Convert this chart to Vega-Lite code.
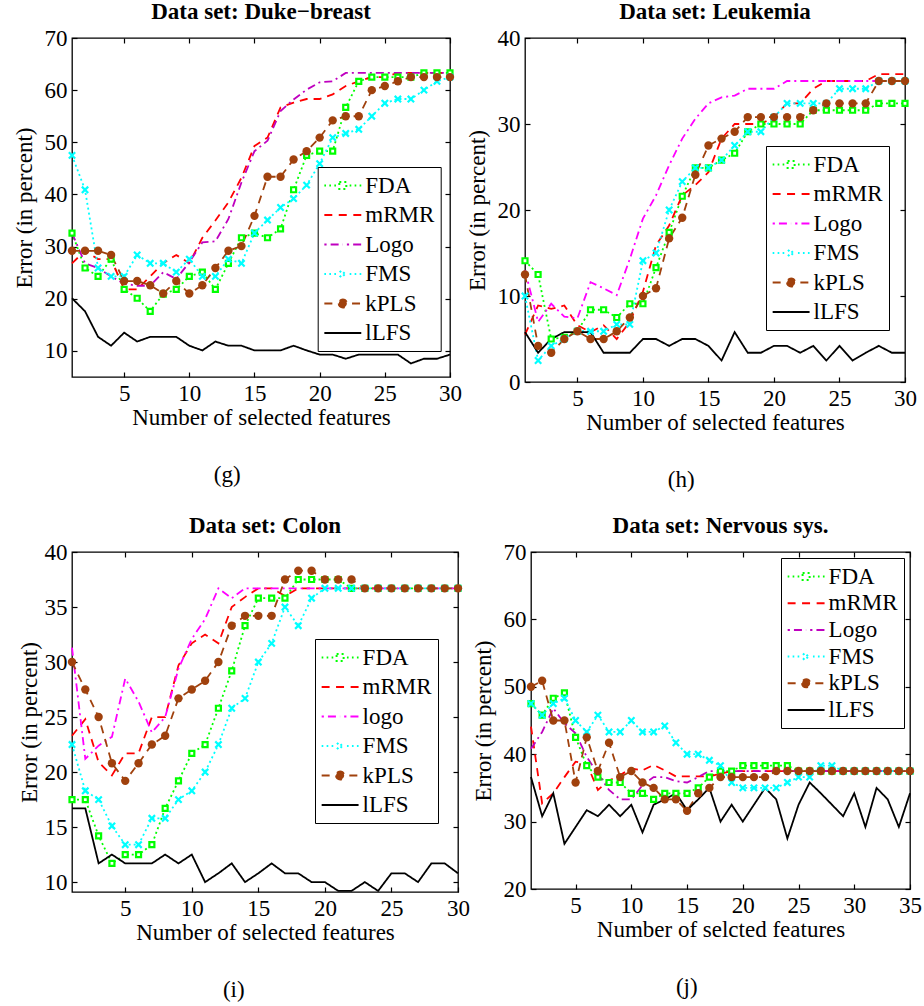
{
"$schema": "https://vega.github.io/schema/vega-lite/v6.json",
"background": "white",
"padding": {"left": 12, "top": 0, "right": 0, "bottom": 0},
"config": {
 "font": "Liberation Serif",
 "style": {"guide-label": {"font": "Liberation Serif"}, "guide-title": {"font": "Liberation Serif"}},
 "view": {"stroke": "black", "strokeWidth": 1.3},
 "axis": {"labelFont": "Liberation Serif", "labelFontSize": 23, "labelColor": "black", "titleFont": "Liberation Serif", "titleFontSize": 23, "titleFontWeight": "normal", "titleColor": "black", "domain": false, "grid": false, "tickColor": "black", "tickSize": -5, "tickWidth": 1.2, "labelPadding": 10, "titlePadding": 1, "labelFlush": false, "labelOverlap": false},
 "title": {"font": "Liberation Serif", "fontSize": 23, "fontWeight": "bold", "color": "black", "frame": "group", "offset": 3},
 "legend": {"title": null, "strokeColor": "black", "fillColor": "white", "padding": 6, "labelFont": "Liberation Serif", "labelFontSize": 23, "labelFontWeight": "normal", "labelColor": "black", "symbolSize": 529, "symbolStrokeWidth": 2, "labelOffset": 16.6, "rowPadding": 4.5, "symbolType": "stroke", "labelLimit": 0}
},
"datasets": {
"g": [
{"m":"FDA","x":1,"y":32.6},{"m":"FDA","x":2,"y":25.9},{"m":"FDA","x":3,"y":24.3},{"m":"FDA","x":4,"y":27.6},{"m":"FDA","x":5,"y":21.8},{"m":"FDA","x":6,"y":20.1},{"m":"FDA","x":7,"y":17.6},{"m":"FDA","x":8,"y":20.9},{"m":"FDA","x":9,"y":21.8},{"m":"FDA","x":10,"y":24.3},{"m":"FDA","x":11,"y":25.1},{"m":"FDA","x":12,"y":21.8},{"m":"FDA","x":13,"y":26.8},{"m":"FDA","x":14,"y":31.7},{"m":"FDA","x":15,"y":32.6},{"m":"FDA","x":16,"y":31.7},{"m":"FDA","x":17,"y":33.4},{"m":"FDA","x":18,"y":40.9},{"m":"FDA","x":19,"y":47.5},{"m":"FDA","x":20,"y":48.3},{"m":"FDA","x":21,"y":48.3},{"m":"FDA","x":22,"y":56.7},{"m":"FDA","x":23,"y":61.7},{"m":"FDA","x":24,"y":62.5},{"m":"FDA","x":25,"y":62.5},{"m":"FDA","x":26,"y":62.5},{"m":"FDA","x":27,"y":62.5},{"m":"FDA","x":28,"y":63.3},{"m":"FDA","x":29,"y":63.3},{"m":"FDA","x":30,"y":63.3},
{"m":"mRMR","x":1,"y":26.8},{"m":"mRMR","x":2,"y":29.2},{"m":"mRMR","x":3,"y":27.6},{"m":"mRMR","x":4,"y":27.6},{"m":"mRMR","x":5,"y":21.8},{"m":"mRMR","x":6,"y":21.8},{"m":"mRMR","x":7,"y":24.3},{"m":"mRMR","x":8,"y":26.8},{"m":"mRMR","x":9,"y":28.4},{"m":"mRMR","x":10,"y":26.8},{"m":"mRMR","x":11,"y":31.7},{"m":"mRMR","x":12,"y":35.0},{"m":"mRMR","x":13,"y":38.5},{"m":"mRMR","x":14,"y":43.2},{"m":"mRMR","x":15,"y":49.3},{"m":"mRMR","x":16,"y":50.9},{"m":"mRMR","x":17,"y":56.7},{"m":"mRMR","x":18,"y":57.6},{"m":"mRMR","x":19,"y":58.3},{"m":"mRMR","x":20,"y":58.3},{"m":"mRMR","x":21,"y":59.2},{"m":"mRMR","x":22,"y":60.8},{"m":"mRMR","x":23,"y":61.7},{"m":"mRMR","x":24,"y":62.5},{"m":"mRMR","x":25,"y":62.5},{"m":"mRMR","x":26,"y":63.3},{"m":"mRMR","x":27,"y":63.3},{"m":"mRMR","x":28,"y":63.3},{"m":"mRMR","x":29,"y":63.3},{"m":"mRMR","x":30,"y":63.3},
{"m":"Logo","x":1,"y":32.6},{"m":"Logo","x":2,"y":26.8},{"m":"Logo","x":3,"y":25.9},{"m":"Logo","x":4,"y":24.3},{"m":"Logo","x":5,"y":22.9},{"m":"Logo","x":6,"y":22.5},{"m":"Logo","x":7,"y":22.5},{"m":"Logo","x":8,"y":25.1},{"m":"Logo","x":9,"y":23.8},{"m":"Logo","x":10,"y":27.0},{"m":"Logo","x":11,"y":30.8},{"m":"Logo","x":12,"y":31.0},{"m":"Logo","x":13,"y":35.3},{"m":"Logo","x":14,"y":42.3},{"m":"Logo","x":15,"y":48.3},{"m":"Logo","x":16,"y":50.3},{"m":"Logo","x":17,"y":56.0},{"m":"Logo","x":18,"y":58.2},{"m":"Logo","x":19,"y":60.1},{"m":"Logo","x":20,"y":61.5},{"m":"Logo","x":21,"y":61.7},{"m":"Logo","x":22,"y":63.3},{"m":"Logo","x":23,"y":63.3},{"m":"Logo","x":24,"y":63.3},{"m":"Logo","x":25,"y":63.3},{"m":"Logo","x":26,"y":63.3},{"m":"Logo","x":27,"y":63.3},{"m":"Logo","x":28,"y":63.3},{"m":"Logo","x":29,"y":63.3},{"m":"Logo","x":30,"y":63.3},
{"m":"FMS","x":1,"y":47.5},{"m":"FMS","x":2,"y":40.9},{"m":"FMS","x":3,"y":25.9},{"m":"FMS","x":4,"y":24.3},{"m":"FMS","x":5,"y":24.3},{"m":"FMS","x":6,"y":28.4},{"m":"FMS","x":7,"y":26.8},{"m":"FMS","x":8,"y":26.8},{"m":"FMS","x":9,"y":25.1},{"m":"FMS","x":10,"y":27.6},{"m":"FMS","x":11,"y":24.3},{"m":"FMS","x":12,"y":24.3},{"m":"FMS","x":13,"y":27.6},{"m":"FMS","x":14,"y":26.8},{"m":"FMS","x":15,"y":32.6},{"m":"FMS","x":16,"y":35.1},{"m":"FMS","x":17,"y":37.5},{"m":"FMS","x":18,"y":39.2},{"m":"FMS","x":19,"y":41.8},{"m":"FMS","x":20,"y":45.9},{"m":"FMS","x":21,"y":50.9},{"m":"FMS","x":22,"y":51.7},{"m":"FMS","x":23,"y":52.5},{"m":"FMS","x":24,"y":55.0},{"m":"FMS","x":25,"y":57.5},{"m":"FMS","x":26,"y":58.3},{"m":"FMS","x":27,"y":58.3},{"m":"FMS","x":28,"y":60.0},{"m":"FMS","x":29,"y":61.7},{"m":"FMS","x":30,"y":62.5},
{"m":"kPLS","x":1,"y":29.2},{"m":"kPLS","x":2,"y":29.2},{"m":"kPLS","x":3,"y":29.2},{"m":"kPLS","x":4,"y":28.4},{"m":"kPLS","x":5,"y":23.4},{"m":"kPLS","x":6,"y":23.4},{"m":"kPLS","x":7,"y":22.6},{"m":"kPLS","x":8,"y":21.0},{"m":"kPLS","x":9,"y":23.4},{"m":"kPLS","x":10,"y":21.0},{"m":"kPLS","x":11,"y":22.6},{"m":"kPLS","x":12,"y":25.9},{"m":"kPLS","x":13,"y":29.2},{"m":"kPLS","x":14,"y":30.1},{"m":"kPLS","x":15,"y":35.9},{"m":"kPLS","x":16,"y":43.4},{"m":"kPLS","x":17,"y":43.4},{"m":"kPLS","x":18,"y":46.7},{"m":"kPLS","x":19,"y":48.3},{"m":"kPLS","x":20,"y":50.9},{"m":"kPLS","x":21,"y":54.2},{"m":"kPLS","x":22,"y":55.0},{"m":"kPLS","x":23,"y":55.0},{"m":"kPLS","x":24,"y":60.0},{"m":"kPLS","x":25,"y":60.8},{"m":"kPLS","x":26,"y":61.7},{"m":"kPLS","x":27,"y":62.5},{"m":"kPLS","x":28,"y":62.5},{"m":"kPLS","x":29,"y":62.5},{"m":"kPLS","x":30,"y":62.5},
{"m":"lLFS","x":1,"y":20.1},{"m":"lLFS","x":2,"y":17.6},{"m":"lLFS","x":3,"y":12.7},{"m":"lLFS","x":4,"y":11.0},{"m":"lLFS","x":5,"y":13.5},{"m":"lLFS","x":6,"y":11.8},{"m":"lLFS","x":7,"y":12.7},{"m":"lLFS","x":8,"y":12.7},{"m":"lLFS","x":9,"y":12.7},{"m":"lLFS","x":10,"y":11.0},{"m":"lLFS","x":11,"y":10.1},{"m":"lLFS","x":12,"y":11.8},{"m":"lLFS","x":13,"y":11.0},{"m":"lLFS","x":14,"y":11.0},{"m":"lLFS","x":15,"y":10.1},{"m":"lLFS","x":16,"y":10.1},{"m":"lLFS","x":17,"y":10.1},{"m":"lLFS","x":18,"y":11.0},{"m":"lLFS","x":19,"y":10.1},{"m":"lLFS","x":20,"y":9.3},{"m":"lLFS","x":21,"y":9.3},{"m":"lLFS","x":22,"y":8.5},{"m":"lLFS","x":23,"y":9.3},{"m":"lLFS","x":24,"y":9.3},{"m":"lLFS","x":25,"y":9.3},{"m":"lLFS","x":26,"y":9.3},{"m":"lLFS","x":27,"y":7.6},{"m":"lLFS","x":28,"y":8.5},{"m":"lLFS","x":29,"y":8.5},{"m":"lLFS","x":30,"y":9.3}
],
"h": [
{"m":"FDA","x":1,"y":14.1},{"m":"FDA","x":2,"y":12.5},{"m":"FDA","x":3,"y":5.0},{"m":"FDA","x":4,"y":5.2},{"m":"FDA","x":5,"y":5.9},{"m":"FDA","x":6,"y":8.4},{"m":"FDA","x":7,"y":8.4},{"m":"FDA","x":8,"y":7.5},{"m":"FDA","x":9,"y":9.1},{"m":"FDA","x":10,"y":9.1},{"m":"FDA","x":11,"y":13.3},{"m":"FDA","x":12,"y":17.4},{"m":"FDA","x":13,"y":21.6},{"m":"FDA","x":14,"y":24.9},{"m":"FDA","x":15,"y":24.9},{"m":"FDA","x":16,"y":25.8},{"m":"FDA","x":17,"y":26.6},{"m":"FDA","x":18,"y":29.1},{"m":"FDA","x":19,"y":30.0},{"m":"FDA","x":20,"y":30.0},{"m":"FDA","x":21,"y":30.0},{"m":"FDA","x":22,"y":30.0},{"m":"FDA","x":23,"y":31.6},{"m":"FDA","x":24,"y":31.6},{"m":"FDA","x":25,"y":31.6},{"m":"FDA","x":26,"y":31.6},{"m":"FDA","x":27,"y":31.6},{"m":"FDA","x":28,"y":32.4},{"m":"FDA","x":29,"y":32.4},{"m":"FDA","x":30,"y":32.4},
{"m":"mRMR","x":1,"y":5.5},{"m":"mRMR","x":2,"y":8.9},{"m":"mRMR","x":3,"y":8.5},{"m":"mRMR","x":4,"y":8.9},{"m":"mRMR","x":5,"y":6.6},{"m":"mRMR","x":6,"y":5.8},{"m":"mRMR","x":7,"y":6.6},{"m":"mRMR","x":8,"y":5.0},{"m":"mRMR","x":9,"y":7.0},{"m":"mRMR","x":10,"y":10.5},{"m":"mRMR","x":11,"y":15.9},{"m":"mRMR","x":12,"y":18.2},{"m":"mRMR","x":13,"y":21.7},{"m":"mRMR","x":14,"y":22.9},{"m":"mRMR","x":15,"y":24.4},{"m":"mRMR","x":16,"y":28.3},{"m":"mRMR","x":17,"y":30.0},{"m":"mRMR","x":18,"y":30.0},{"m":"mRMR","x":19,"y":30.0},{"m":"mRMR","x":20,"y":30.8},{"m":"mRMR","x":21,"y":32.4},{"m":"mRMR","x":22,"y":32.4},{"m":"mRMR","x":23,"y":34.1},{"m":"mRMR","x":24,"y":35.0},{"m":"mRMR","x":25,"y":35.0},{"m":"mRMR","x":26,"y":35.0},{"m":"mRMR","x":27,"y":35.0},{"m":"mRMR","x":28,"y":35.8},{"m":"mRMR","x":29,"y":35.8},{"m":"mRMR","x":30,"y":35.8},
{"m":"Logo","x":1,"y":13.0},{"m":"Logo","x":2,"y":7.0},{"m":"Logo","x":3,"y":9.1},{"m":"Logo","x":4,"y":7.6},{"m":"Logo","x":5,"y":7.4},{"m":"Logo","x":6,"y":11.6},{"m":"Logo","x":7,"y":10.9},{"m":"Logo","x":8,"y":10.1},{"m":"Logo","x":9,"y":14.3},{"m":"Logo","x":10,"y":19.0},{"m":"Logo","x":11,"y":21.7},{"m":"Logo","x":12,"y":25.2},{"m":"Logo","x":13,"y":28.3},{"m":"Logo","x":14,"y":30.6},{"m":"Logo","x":15,"y":32.4},{"m":"Logo","x":16,"y":33.1},{"m":"Logo","x":17,"y":33.3},{"m":"Logo","x":18,"y":34.1},{"m":"Logo","x":19,"y":34.1},{"m":"Logo","x":20,"y":34.1},{"m":"Logo","x":21,"y":35.0},{"m":"Logo","x":22,"y":35.0},{"m":"Logo","x":23,"y":35.0},{"m":"Logo","x":24,"y":35.0},{"m":"Logo","x":25,"y":35.0},{"m":"Logo","x":26,"y":35.0},{"m":"Logo","x":27,"y":35.0},{"m":"Logo","x":28,"y":35.0},{"m":"Logo","x":29,"y":35.0},{"m":"Logo","x":30,"y":35.0},
{"m":"FMS","x":1,"y":10.0},{"m":"FMS","x":2,"y":2.5},{"m":"FMS","x":3,"y":4.2},{"m":"FMS","x":4,"y":5.0},{"m":"FMS","x":5,"y":5.9},{"m":"FMS","x":6,"y":5.9},{"m":"FMS","x":7,"y":5.9},{"m":"FMS","x":8,"y":6.7},{"m":"FMS","x":9,"y":6.7},{"m":"FMS","x":10,"y":14.1},{"m":"FMS","x":11,"y":15.0},{"m":"FMS","x":12,"y":20.0},{"m":"FMS","x":13,"y":23.3},{"m":"FMS","x":14,"y":24.9},{"m":"FMS","x":15,"y":24.9},{"m":"FMS","x":16,"y":25.8},{"m":"FMS","x":17,"y":27.5},{"m":"FMS","x":18,"y":29.1},{"m":"FMS","x":19,"y":29.1},{"m":"FMS","x":20,"y":30.8},{"m":"FMS","x":21,"y":32.4},{"m":"FMS","x":22,"y":32.4},{"m":"FMS","x":23,"y":32.4},{"m":"FMS","x":24,"y":32.4},{"m":"FMS","x":25,"y":34.1},{"m":"FMS","x":26,"y":34.1},{"m":"FMS","x":27,"y":34.1},{"m":"FMS","x":28,"y":35.0},{"m":"FMS","x":29,"y":35.0},{"m":"FMS","x":30,"y":35.0},
{"m":"kPLS","x":1,"y":12.5},{"m":"kPLS","x":2,"y":4.2},{"m":"kPLS","x":3,"y":3.4},{"m":"kPLS","x":4,"y":5.0},{"m":"kPLS","x":5,"y":5.9},{"m":"kPLS","x":6,"y":5.0},{"m":"kPLS","x":7,"y":5.0},{"m":"kPLS","x":8,"y":5.9},{"m":"kPLS","x":9,"y":7.5},{"m":"kPLS","x":10,"y":10.0},{"m":"kPLS","x":11,"y":10.9},{"m":"kPLS","x":12,"y":16.7},{"m":"kPLS","x":13,"y":19.1},{"m":"kPLS","x":14,"y":24.1},{"m":"kPLS","x":15,"y":27.5},{"m":"kPLS","x":16,"y":28.3},{"m":"kPLS","x":17,"y":29.1},{"m":"kPLS","x":18,"y":30.8},{"m":"kPLS","x":19,"y":30.8},{"m":"kPLS","x":20,"y":30.8},{"m":"kPLS","x":21,"y":30.8},{"m":"kPLS","x":22,"y":30.8},{"m":"kPLS","x":23,"y":31.6},{"m":"kPLS","x":24,"y":32.4},{"m":"kPLS","x":25,"y":32.4},{"m":"kPLS","x":26,"y":32.4},{"m":"kPLS","x":27,"y":32.4},{"m":"kPLS","x":28,"y":35.0},{"m":"kPLS","x":29,"y":35.0},{"m":"kPLS","x":30,"y":35.0},
{"m":"lLFS","x":1,"y":5.8},{"m":"lLFS","x":2,"y":3.4},{"m":"lLFS","x":3,"y":5.0},{"m":"lLFS","x":4,"y":5.8},{"m":"lLFS","x":5,"y":5.8},{"m":"lLFS","x":6,"y":5.8},{"m":"lLFS","x":7,"y":3.4},{"m":"lLFS","x":8,"y":3.4},{"m":"lLFS","x":9,"y":3.4},{"m":"lLFS","x":10,"y":5.0},{"m":"lLFS","x":11,"y":5.0},{"m":"lLFS","x":12,"y":4.2},{"m":"lLFS","x":13,"y":5.0},{"m":"lLFS","x":14,"y":5.0},{"m":"lLFS","x":15,"y":4.2},{"m":"lLFS","x":16,"y":2.5},{"m":"lLFS","x":17,"y":5.8},{"m":"lLFS","x":18,"y":3.4},{"m":"lLFS","x":19,"y":3.4},{"m":"lLFS","x":20,"y":4.2},{"m":"lLFS","x":21,"y":4.2},{"m":"lLFS","x":22,"y":3.4},{"m":"lLFS","x":23,"y":4.2},{"m":"lLFS","x":24,"y":2.5},{"m":"lLFS","x":25,"y":4.2},{"m":"lLFS","x":26,"y":2.5},{"m":"lLFS","x":27,"y":3.4},{"m":"lLFS","x":28,"y":4.2},{"m":"lLFS","x":29,"y":3.4},{"m":"lLFS","x":30,"y":3.4}
],
"i": [
{"m":"FDA","x":1,"y":17.5},{"m":"FDA","x":2,"y":17.5},{"m":"FDA","x":3,"y":14.2},{"m":"FDA","x":4,"y":11.7},{"m":"FDA","x":5,"y":12.5},{"m":"FDA","x":6,"y":12.5},{"m":"FDA","x":7,"y":13.4},{"m":"FDA","x":8,"y":16.7},{"m":"FDA","x":9,"y":19.2},{"m":"FDA","x":10,"y":21.7},{"m":"FDA","x":11,"y":22.5},{"m":"FDA","x":12,"y":25.8},{"m":"FDA","x":13,"y":29.2},{"m":"FDA","x":14,"y":33.3},{"m":"FDA","x":15,"y":35.8},{"m":"FDA","x":16,"y":35.8},{"m":"FDA","x":17,"y":35.8},{"m":"FDA","x":18,"y":37.5},{"m":"FDA","x":19,"y":37.5},{"m":"FDA","x":20,"y":37.5},{"m":"FDA","x":21,"y":37.5},{"m":"FDA","x":22,"y":36.7},{"m":"FDA","x":23,"y":36.7},{"m":"FDA","x":24,"y":36.7},{"m":"FDA","x":25,"y":36.7},{"m":"FDA","x":26,"y":36.7},{"m":"FDA","x":27,"y":36.7},{"m":"FDA","x":28,"y":36.7},{"m":"FDA","x":29,"y":36.7},{"m":"FDA","x":30,"y":36.7},
{"m":"mRMR","x":1,"y":23.3},{"m":"mRMR","x":2,"y":24.8},{"m":"mRMR","x":3,"y":20.9},{"m":"mRMR","x":4,"y":19.7},{"m":"mRMR","x":5,"y":21.7},{"m":"mRMR","x":6,"y":21.7},{"m":"mRMR","x":7,"y":25.0},{"m":"mRMR","x":8,"y":25.0},{"m":"mRMR","x":9,"y":29.7},{"m":"mRMR","x":10,"y":31.7},{"m":"mRMR","x":11,"y":32.5},{"m":"mRMR","x":12,"y":31.7},{"m":"mRMR","x":13,"y":35.0},{"m":"mRMR","x":14,"y":35.9},{"m":"mRMR","x":15,"y":36.7},{"m":"mRMR","x":16,"y":36.7},{"m":"mRMR","x":17,"y":36.0},{"m":"mRMR","x":18,"y":36.7},{"m":"mRMR","x":19,"y":36.7},{"m":"mRMR","x":20,"y":36.7},{"m":"mRMR","x":21,"y":36.7},{"m":"mRMR","x":22,"y":36.7},{"m":"mRMR","x":23,"y":36.7},{"m":"mRMR","x":24,"y":36.7},{"m":"mRMR","x":25,"y":36.7},{"m":"mRMR","x":26,"y":36.7},{"m":"mRMR","x":27,"y":36.7},{"m":"mRMR","x":28,"y":36.7},{"m":"mRMR","x":29,"y":36.7},{"m":"mRMR","x":30,"y":36.7},
{"m":"logo","x":1,"y":31.3},{"m":"logo","x":2,"y":21.2},{"m":"logo","x":3,"y":22.4},{"m":"logo","x":4,"y":23.2},{"m":"logo","x":5,"y":28.5},{"m":"logo","x":6,"y":26.4},{"m":"logo","x":7,"y":23.6},{"m":"logo","x":8,"y":25.0},{"m":"logo","x":9,"y":29.4},{"m":"logo","x":10,"y":32.1},{"m":"logo","x":11,"y":33.9},{"m":"logo","x":12,"y":36.7},{"m":"logo","x":13,"y":35.8},{"m":"logo","x":14,"y":36.7},{"m":"logo","x":15,"y":36.7},{"m":"logo","x":16,"y":36.7},{"m":"logo","x":17,"y":36.7},{"m":"logo","x":18,"y":36.7},{"m":"logo","x":19,"y":36.7},{"m":"logo","x":20,"y":36.7},{"m":"logo","x":21,"y":36.7},{"m":"logo","x":22,"y":36.7},{"m":"logo","x":23,"y":36.7},{"m":"logo","x":24,"y":36.7},{"m":"logo","x":25,"y":36.7},{"m":"logo","x":26,"y":36.7},{"m":"logo","x":27,"y":36.7},{"m":"logo","x":28,"y":36.7},{"m":"logo","x":29,"y":36.7},{"m":"logo","x":30,"y":36.7},
{"m":"FMS","x":1,"y":22.5},{"m":"FMS","x":2,"y":18.3},{"m":"FMS","x":3,"y":17.5},{"m":"FMS","x":4,"y":15.1},{"m":"FMS","x":5,"y":13.4},{"m":"FMS","x":6,"y":13.4},{"m":"FMS","x":7,"y":15.8},{"m":"FMS","x":8,"y":15.8},{"m":"FMS","x":9,"y":17.5},{"m":"FMS","x":10,"y":18.3},{"m":"FMS","x":11,"y":20.0},{"m":"FMS","x":12,"y":22.5},{"m":"FMS","x":13,"y":25.8},{"m":"FMS","x":14,"y":26.7},{"m":"FMS","x":15,"y":30.0},{"m":"FMS","x":16,"y":31.7},{"m":"FMS","x":17,"y":35.0},{"m":"FMS","x":18,"y":33.3},{"m":"FMS","x":19,"y":35.8},{"m":"FMS","x":20,"y":36.7},{"m":"FMS","x":21,"y":36.7},{"m":"FMS","x":22,"y":36.7},{"m":"FMS","x":23,"y":36.7},{"m":"FMS","x":24,"y":36.7},{"m":"FMS","x":25,"y":36.7},{"m":"FMS","x":26,"y":36.7},{"m":"FMS","x":27,"y":36.7},{"m":"FMS","x":28,"y":36.7},{"m":"FMS","x":29,"y":36.7},{"m":"FMS","x":30,"y":36.7},
{"m":"kPLS","x":1,"y":30.0},{"m":"kPLS","x":2,"y":27.5},{"m":"kPLS","x":3,"y":25.0},{"m":"kPLS","x":4,"y":20.8},{"m":"kPLS","x":5,"y":19.2},{"m":"kPLS","x":6,"y":20.8},{"m":"kPLS","x":7,"y":22.5},{"m":"kPLS","x":8,"y":23.3},{"m":"kPLS","x":9,"y":26.7},{"m":"kPLS","x":10,"y":27.5},{"m":"kPLS","x":11,"y":28.3},{"m":"kPLS","x":12,"y":30.0},{"m":"kPLS","x":13,"y":33.3},{"m":"kPLS","x":14,"y":34.2},{"m":"kPLS","x":15,"y":34.2},{"m":"kPLS","x":16,"y":34.2},{"m":"kPLS","x":17,"y":37.5},{"m":"kPLS","x":18,"y":38.3},{"m":"kPLS","x":19,"y":38.3},{"m":"kPLS","x":20,"y":37.5},{"m":"kPLS","x":21,"y":37.5},{"m":"kPLS","x":22,"y":37.5},{"m":"kPLS","x":23,"y":36.7},{"m":"kPLS","x":24,"y":36.7},{"m":"kPLS","x":25,"y":36.7},{"m":"kPLS","x":26,"y":36.7},{"m":"kPLS","x":27,"y":36.7},{"m":"kPLS","x":28,"y":36.7},{"m":"kPLS","x":29,"y":36.7},{"m":"kPLS","x":30,"y":36.7},
{"m":"lLFS","x":1,"y":16.7},{"m":"lLFS","x":2,"y":16.7},{"m":"lLFS","x":3,"y":11.7},{"m":"lLFS","x":4,"y":12.5},{"m":"lLFS","x":5,"y":11.7},{"m":"lLFS","x":6,"y":11.7},{"m":"lLFS","x":7,"y":11.7},{"m":"lLFS","x":8,"y":12.5},{"m":"lLFS","x":9,"y":11.7},{"m":"lLFS","x":10,"y":12.5},{"m":"lLFS","x":11,"y":10.0},{"m":"lLFS","x":12,"y":10.8},{"m":"lLFS","x":13,"y":11.7},{"m":"lLFS","x":14,"y":10.0},{"m":"lLFS","x":15,"y":10.8},{"m":"lLFS","x":16,"y":11.7},{"m":"lLFS","x":17,"y":10.8},{"m":"lLFS","x":18,"y":10.8},{"m":"lLFS","x":19,"y":10.0},{"m":"lLFS","x":20,"y":10.0},{"m":"lLFS","x":21,"y":9.2},{"m":"lLFS","x":22,"y":9.2},{"m":"lLFS","x":23,"y":10.0},{"m":"lLFS","x":24,"y":9.2},{"m":"lLFS","x":25,"y":10.8},{"m":"lLFS","x":26,"y":10.8},{"m":"lLFS","x":27,"y":10.0},{"m":"lLFS","x":28,"y":11.7},{"m":"lLFS","x":29,"y":11.7},{"m":"lLFS","x":30,"y":10.8}
],
"j": [
{"m":"FDA","x":1,"y":47.5},{"m":"FDA","x":2,"y":45.8},{"m":"FDA","x":3,"y":48.3},{"m":"FDA","x":4,"y":49.1},{"m":"FDA","x":5,"y":42.5},{"m":"FDA","x":6,"y":38.3},{"m":"FDA","x":7,"y":36.6},{"m":"FDA","x":8,"y":35.8},{"m":"FDA","x":9,"y":35.8},{"m":"FDA","x":10,"y":34.2},{"m":"FDA","x":11,"y":34.2},{"m":"FDA","x":12,"y":33.3},{"m":"FDA","x":13,"y":34.2},{"m":"FDA","x":14,"y":34.2},{"m":"FDA","x":15,"y":34.2},{"m":"FDA","x":16,"y":35.0},{"m":"FDA","x":17,"y":36.6},{"m":"FDA","x":18,"y":37.5},{"m":"FDA","x":19,"y":37.5},{"m":"FDA","x":20,"y":38.3},{"m":"FDA","x":21,"y":38.3},{"m":"FDA","x":22,"y":38.3},{"m":"FDA","x":23,"y":38.3},{"m":"FDA","x":24,"y":38.3},{"m":"FDA","x":25,"y":37.5},{"m":"FDA","x":26,"y":37.5},{"m":"FDA","x":27,"y":37.5},{"m":"FDA","x":28,"y":37.5},{"m":"FDA","x":29,"y":37.5},{"m":"FDA","x":30,"y":37.5},{"m":"FDA","x":31,"y":37.5},{"m":"FDA","x":32,"y":37.5},{"m":"FDA","x":33,"y":37.5},{"m":"FDA","x":34,"y":37.5},{"m":"FDA","x":35,"y":37.5},
{"m":"mRMR","x":1,"y":44.1},{"m":"mRMR","x":2,"y":32.7},{"m":"mRMR","x":3,"y":34.2},{"m":"mRMR","x":4,"y":36.6},{"m":"mRMR","x":5,"y":38.9},{"m":"mRMR","x":6,"y":38.6},{"m":"mRMR","x":7,"y":34.7},{"m":"mRMR","x":8,"y":36.1},{"m":"mRMR","x":9,"y":36.9},{"m":"mRMR","x":10,"y":37.9},{"m":"mRMR","x":11,"y":37.6},{"m":"mRMR","x":12,"y":38.4},{"m":"mRMR","x":13,"y":37.6},{"m":"mRMR","x":14,"y":36.7},{"m":"mRMR","x":15,"y":36.7},{"m":"mRMR","x":16,"y":36.7},{"m":"mRMR","x":17,"y":36.7},{"m":"mRMR","x":18,"y":37.1},{"m":"mRMR","x":19,"y":37.5},{"m":"mRMR","x":20,"y":37.5},{"m":"mRMR","x":21,"y":37.5},{"m":"mRMR","x":22,"y":37.5},{"m":"mRMR","x":23,"y":37.5},{"m":"mRMR","x":24,"y":37.5},{"m":"mRMR","x":25,"y":37.5},{"m":"mRMR","x":26,"y":37.5},{"m":"mRMR","x":27,"y":37.5},{"m":"mRMR","x":28,"y":37.5},{"m":"mRMR","x":29,"y":37.5},{"m":"mRMR","x":30,"y":37.5},{"m":"mRMR","x":31,"y":37.5},{"m":"mRMR","x":32,"y":37.5},{"m":"mRMR","x":33,"y":37.5},{"m":"mRMR","x":34,"y":37.5},{"m":"mRMR","x":35,"y":37.5},
{"m":"Logo","x":1,"y":40.8},{"m":"Logo","x":2,"y":43.3},{"m":"Logo","x":3,"y":46.8},{"m":"Logo","x":4,"y":44.6},{"m":"Logo","x":5,"y":43.1},{"m":"Logo","x":6,"y":39.6},{"m":"Logo","x":7,"y":37.1},{"m":"Logo","x":8,"y":34.7},{"m":"Logo","x":9,"y":33.3},{"m":"Logo","x":10,"y":33.3},{"m":"Logo","x":11,"y":35.4},{"m":"Logo","x":12,"y":36.6},{"m":"Logo","x":13,"y":36.6},{"m":"Logo","x":14,"y":36.0},{"m":"Logo","x":15,"y":35.8},{"m":"Logo","x":16,"y":36.6},{"m":"Logo","x":17,"y":37.5},{"m":"Logo","x":18,"y":37.5},{"m":"Logo","x":19,"y":37.5},{"m":"Logo","x":20,"y":37.5},{"m":"Logo","x":21,"y":37.5},{"m":"Logo","x":22,"y":37.5},{"m":"Logo","x":23,"y":37.5},{"m":"Logo","x":24,"y":37.5},{"m":"Logo","x":25,"y":37.5},{"m":"Logo","x":26,"y":37.5},{"m":"Logo","x":27,"y":37.5},{"m":"Logo","x":28,"y":37.5},{"m":"Logo","x":29,"y":37.5},{"m":"Logo","x":30,"y":37.5},{"m":"Logo","x":31,"y":37.5},{"m":"Logo","x":32,"y":37.5},{"m":"Logo","x":33,"y":37.5},{"m":"Logo","x":34,"y":37.5},{"m":"Logo","x":35,"y":37.5},
{"m":"FMS","x":1,"y":47.5},{"m":"FMS","x":2,"y":45.8},{"m":"FMS","x":3,"y":47.5},{"m":"FMS","x":4,"y":48.3},{"m":"FMS","x":5,"y":45.0},{"m":"FMS","x":6,"y":43.3},{"m":"FMS","x":7,"y":45.8},{"m":"FMS","x":8,"y":43.3},{"m":"FMS","x":9,"y":43.3},{"m":"FMS","x":10,"y":45.0},{"m":"FMS","x":11,"y":43.3},{"m":"FMS","x":12,"y":43.3},{"m":"FMS","x":13,"y":44.2},{"m":"FMS","x":14,"y":41.7},{"m":"FMS","x":15,"y":40.0},{"m":"FMS","x":16,"y":40.0},{"m":"FMS","x":17,"y":39.1},{"m":"FMS","x":18,"y":38.3},{"m":"FMS","x":19,"y":35.8},{"m":"FMS","x":20,"y":35.0},{"m":"FMS","x":21,"y":35.0},{"m":"FMS","x":22,"y":35.0},{"m":"FMS","x":23,"y":35.0},{"m":"FMS","x":24,"y":35.8},{"m":"FMS","x":25,"y":36.6},{"m":"FMS","x":26,"y":36.6},{"m":"FMS","x":27,"y":38.3},{"m":"FMS","x":28,"y":38.3},{"m":"FMS","x":29,"y":37.5},{"m":"FMS","x":30,"y":37.5},{"m":"FMS","x":31,"y":37.5},{"m":"FMS","x":32,"y":37.5},{"m":"FMS","x":33,"y":37.5},{"m":"FMS","x":34,"y":37.5},{"m":"FMS","x":35,"y":37.5},
{"m":"kPLS","x":1,"y":50.0},{"m":"kPLS","x":2,"y":50.9},{"m":"kPLS","x":3,"y":45.0},{"m":"kPLS","x":4,"y":45.0},{"m":"kPLS","x":5,"y":35.8},{"m":"kPLS","x":6,"y":42.5},{"m":"kPLS","x":7,"y":37.5},{"m":"kPLS","x":8,"y":41.7},{"m":"kPLS","x":9,"y":36.6},{"m":"kPLS","x":10,"y":37.5},{"m":"kPLS","x":11,"y":35.8},{"m":"kPLS","x":12,"y":35.0},{"m":"kPLS","x":13,"y":33.3},{"m":"kPLS","x":14,"y":33.3},{"m":"kPLS","x":15,"y":31.6},{"m":"kPLS","x":16,"y":34.2},{"m":"kPLS","x":17,"y":35.0},{"m":"kPLS","x":18,"y":36.6},{"m":"kPLS","x":19,"y":36.6},{"m":"kPLS","x":20,"y":36.6},{"m":"kPLS","x":21,"y":36.6},{"m":"kPLS","x":22,"y":36.6},{"m":"kPLS","x":23,"y":37.5},{"m":"kPLS","x":24,"y":37.5},{"m":"kPLS","x":25,"y":37.5},{"m":"kPLS","x":26,"y":37.5},{"m":"kPLS","x":27,"y":37.5},{"m":"kPLS","x":28,"y":37.5},{"m":"kPLS","x":29,"y":37.5},{"m":"kPLS","x":30,"y":37.5},{"m":"kPLS","x":31,"y":37.5},{"m":"kPLS","x":32,"y":37.5},{"m":"kPLS","x":33,"y":37.5},{"m":"kPLS","x":34,"y":37.5},{"m":"kPLS","x":35,"y":37.5},
{"m":"lLFS","x":1,"y":36.6},{"m":"lLFS","x":2,"y":30.8},{"m":"lLFS","x":3,"y":34.2},{"m":"lLFS","x":4,"y":26.7},{"m":"lLFS","x":5,"y":29.2},{"m":"lLFS","x":6,"y":31.7},{"m":"lLFS","x":7,"y":30.8},{"m":"lLFS","x":8,"y":32.5},{"m":"lLFS","x":9,"y":30.8},{"m":"lLFS","x":10,"y":32.5},{"m":"lLFS","x":11,"y":28.4},{"m":"lLFS","x":12,"y":32.5},{"m":"lLFS","x":13,"y":33.3},{"m":"lLFS","x":14,"y":34.2},{"m":"lLFS","x":15,"y":31.7},{"m":"lLFS","x":16,"y":33.3},{"m":"lLFS","x":17,"y":35.0},{"m":"lLFS","x":18,"y":30.0},{"m":"lLFS","x":19,"y":32.5},{"m":"lLFS","x":20,"y":30.0},{"m":"lLFS","x":21,"y":32.5},{"m":"lLFS","x":22,"y":35.0},{"m":"lLFS","x":23,"y":33.3},{"m":"lLFS","x":24,"y":27.5},{"m":"lLFS","x":25,"y":32.5},{"m":"lLFS","x":26,"y":35.8},{"m":"lLFS","x":27,"y":34.2},{"m":"lLFS","x":28,"y":32.5},{"m":"lLFS","x":29,"y":30.8},{"m":"lLFS","x":30,"y":34.2},{"m":"lLFS","x":31,"y":29.2},{"m":"lLFS","x":32,"y":35.0},{"m":"lLFS","x":33,"y":33.3},{"m":"lLFS","x":34,"y":29.2},{"m":"lLFS","x":35,"y":34.2}
]
},
"vconcat": [
 {"hconcat": [
  {"title": {"text": "(g)", "orient": "bottom", "anchor": "middle", "dx": -10, "fontWeight": "normal", "fontSize": 23, "frame": "bounds", "offset": 34},
   "vconcat": [
    {"title": {"text": "Data set: Duke−breast"},
     "width": 378, "height": 339,
     "data": {"name": "g"},
     "layer": [
      {"mark": {"type": "line", "strokeWidth": 1.8},
       "encoding": {
        "x": {"field": "x", "type": "quantitative", "scale": {"domain": [1, 30], "nice": false, "zero": false}, "axis": {"values": [5, 10, 15, 20, 25, 30], "title": "Number of selected features"}},
        "y": {"field": "y", "type": "quantitative", "scale": {"domain": [5, 70], "nice": false, "zero": false}, "axis": {"values": [10, 20, 30, 40, 50, 60, 70], "title": "Error (in percent)", "titlePadding": 8}},
        "color": {"field": "m", "type": "nominal", "sort": null, "scale": {"domain": ["FDA", "mRMR", "Logo", "FMS", "kPLS", "lLFS"], "range": ["#00ff00", "#ff0000", "#bf00bf", "#00ffff", "#a0410d", "#000000"]},
         "legend": {"orient": "none", "legendX": 245.7, "legendY": 129,
          "encode": {"symbols": {"update": {
           "shape": {"signal": "datum.value==='FDA'?'M-1.03,0h0.144M-0.597,0h0.144M-0.163,0h0.144M1.169,0h0.144M1.602,0h0.144M2.036,0h0.144M0.27,-0.305h0.61v0.61h-0.61z':datum.value==='mRMR'?'M-1.03,0H-0.34M0.222,0H0.928M1.49,0H2.18':(datum.value==='Logo'||datum.value==='logo')?'M-1.03,0H-0.837M-0.484,0H0.575M0.928,0H1.121M1.474,0H2.18':datum.value==='FMS'?'M-1.03,0h0.144M-0.597,0h0.144M-0.163,0h0.144M1.169,0h0.144M1.602,0h0.144M2.036,0h0.144M0.302,-0.273L0.848,0.273M0.302,0.273L0.848,-0.273':datum.value==='kPLS'?'M-1.03,0H-0.228M1.378,0H2.18M0.222,0A0.353,0.353 0 1,0 0.928,0A0.353,0.353 0 1,0 0.222,0':'M-1.03,0H2.18'"},
           "fill": {"signal": "datum.value==='FDA'?'white':datum.value==='kPLS'?'#a0410d':'transparent'"},
           "strokeDash": {"value": [1, 0]}, "opacity": {"value": 1}, "size": {"value": 529}}}}}},
        "strokeDash": {"field": "m", "type": "nominal", "sort": null, "scale": {"domain": ["FDA", "mRMR", "Logo", "FMS", "kPLS", "lLFS"], "range": [[2, 3], [8, 6], [8, 4, 2, 4], [2, 3], [8, 6], [1, 0]]}, "legend": null}
       }},
      {"transform": [{"filter": "datum.m==='FDA'"}],
       "mark": {"type": "point", "shape": "square", "size": 25, "strokeWidth": 2.2, "filled": false, "fill": "white", "stroke": "#00ff00", "opacity": 1},
       "encoding": {
        "x": {"field": "x", "type": "quantitative", "axis": {"orient": "top", "labels": false, "title": null, "values": [5, 10, 15, 20, 25, 30]}},
        "y": {"field": "y", "type": "quantitative", "axis": {"orient": "right", "labels": false, "title": null, "values": [10, 20, 30, 40, 50, 60, 70]}}}},
      {"transform": [{"filter": "datum.m==='FMS'"}],
       "mark": {"type": "point", "shape": "M-1,-1L1,1M-1,1L1,-1", "size": 40, "strokeWidth": 2.2, "filled": false, "stroke": "#00ffff", "opacity": 1},
       "encoding": {"x": {"field": "x", "type": "quantitative", "axis": null}, "y": {"field": "y", "type": "quantitative", "axis": null}}},
      {"transform": [{"filter": "datum.m==='kPLS'"}],
       "mark": {"type": "point", "shape": "circle", "size": 70, "filled": true, "fill": "#a0410d", "strokeWidth": 0, "opacity": 1},
       "encoding": {"x": {"field": "x", "type": "quantitative", "axis": null}, "y": {"field": "y", "type": "quantitative", "axis": null}}}
     ],
     "resolve": {"axis": {"x": "independent", "y": "independent"}}
    }
   ]},
  {"title": {"text": "(h)", "orient": "bottom", "anchor": "middle", "dx": -10, "fontWeight": "normal", "fontSize": 23, "frame": "bounds", "offset": 34},
   "vconcat": [
    {"title": {"text": "Data set: Leukemia"},
     "width": 380, "height": 344,
     "data": {"name": "h"},
     "layer": [
      {"mark": {"type": "line", "strokeWidth": 1.8},
       "encoding": {
        "x": {"field": "x", "type": "quantitative", "scale": {"domain": [1, 30], "nice": false, "zero": false}, "axis": {"values": [5, 10, 15, 20, 25, 30], "title": "Number of selected features"}},
        "y": {"field": "y", "type": "quantitative", "scale": {"domain": [0, 40], "nice": false, "zero": false}, "axis": {"values": [0, 10, 20, 30, 40], "title": "Error (in percent)", "titlePadding": 8}},
        "color": {"field": "m", "type": "nominal", "sort": null, "scale": {"domain": ["FDA", "mRMR", "Logo", "FMS", "kPLS", "lLFS"], "range": ["#00ff00", "#ff0000", "#ff00ff", "#00ffff", "#a0410d", "#000000"]},
         "legend": {"orient": "none", "legendX": 241, "legendY": 108,
          "encode": {"symbols": {"update": {
           "shape": {"signal": "datum.value==='FDA'?'M-1.03,0h0.144M-0.597,0h0.144M-0.163,0h0.144M1.169,0h0.144M1.602,0h0.144M2.036,0h0.144M0.27,-0.305h0.61v0.61h-0.61z':datum.value==='mRMR'?'M-1.03,0H-0.34M0.222,0H0.928M1.49,0H2.18':(datum.value==='Logo'||datum.value==='logo')?'M-1.03,0H-0.837M-0.484,0H0.575M0.928,0H1.121M1.474,0H2.18':datum.value==='FMS'?'M-1.03,0h0.144M-0.597,0h0.144M-0.163,0h0.144M1.169,0h0.144M1.602,0h0.144M2.036,0h0.144M0.302,-0.273L0.848,0.273M0.302,0.273L0.848,-0.273':datum.value==='kPLS'?'M-1.03,0H-0.228M1.378,0H2.18M0.222,0A0.353,0.353 0 1,0 0.928,0A0.353,0.353 0 1,0 0.222,0':'M-1.03,0H2.18'"},
           "fill": {"signal": "datum.value==='FDA'?'white':datum.value==='kPLS'?'#a0410d':'transparent'"},
           "strokeDash": {"value": [1, 0]}, "opacity": {"value": 1}, "size": {"value": 529}}}}}},
        "strokeDash": {"field": "m", "type": "nominal", "sort": null, "scale": {"domain": ["FDA", "mRMR", "Logo", "FMS", "kPLS", "lLFS"], "range": [[2, 3], [8, 6], [8, 4, 2, 4], [2, 3], [8, 6], [1, 0]]}, "legend": null}
       }},
      {"transform": [{"filter": "datum.m==='FDA'"}],
       "mark": {"type": "point", "shape": "square", "size": 25, "strokeWidth": 2.2, "filled": false, "fill": "white", "stroke": "#00ff00", "opacity": 1},
       "encoding": {
        "x": {"field": "x", "type": "quantitative", "axis": {"orient": "top", "labels": false, "title": null, "values": [5, 10, 15, 20, 25, 30]}},
        "y": {"field": "y", "type": "quantitative", "axis": {"orient": "right", "labels": false, "title": null, "values": [0, 10, 20, 30, 40]}}}},
      {"transform": [{"filter": "datum.m==='FMS'"}],
       "mark": {"type": "point", "shape": "M-1,-1L1,1M-1,1L1,-1", "size": 40, "strokeWidth": 2.2, "filled": false, "stroke": "#00ffff", "opacity": 1},
       "encoding": {"x": {"field": "x", "type": "quantitative", "axis": null}, "y": {"field": "y", "type": "quantitative", "axis": null}}},
      {"transform": [{"filter": "datum.m==='kPLS'"}],
       "mark": {"type": "point", "shape": "circle", "size": 70, "filled": true, "fill": "#a0410d", "strokeWidth": 0, "opacity": 1},
       "encoding": {"x": {"field": "x", "type": "quantitative", "axis": null}, "y": {"field": "y", "type": "quantitative", "axis": null}}}
     ],
     "resolve": {"axis": {"x": "independent", "y": "independent"}}
    }
   ]}
 ], "spacing": 2, "resolve": {"scale": {"color": "independent", "strokeDash": "independent"}, "legend": {"color": "independent", "strokeDash": "independent"}}},
 {"hconcat": [
  {"title": {"text": "(i)", "orient": "bottom", "anchor": "middle", "dx": -10, "fontWeight": "normal", "fontSize": 23, "frame": "bounds", "offset": 34},
   "vconcat": [
    {"title": {"text": "Data set: Colon"},
     "width": 386, "height": 340,
     "data": {"name": "i"},
     "layer": [
      {"mark": {"type": "line", "strokeWidth": 1.8},
       "encoding": {
        "x": {"field": "x", "type": "quantitative", "scale": {"domain": [1, 30], "nice": false, "zero": false}, "axis": {"values": [5, 10, 15, 20, 25, 30], "title": "Number of selected features"}},
        "y": {"field": "y", "type": "quantitative", "scale": {"domain": [9.1, 40], "nice": false, "zero": false}, "axis": {"values": [10, 15, 20, 25, 30, 35, 40], "title": "Error (in percent)", "titlePadding": 3}},
        "color": {"field": "m", "type": "nominal", "sort": null, "scale": {"domain": ["FDA", "mRMR", "logo", "FMS", "kPLS", "lLFS"], "range": ["#00ff00", "#ff0000", "#ff00ff", "#00ffff", "#a0410d", "#000000"]},
         "legend": {"orient": "none", "legendX": 243, "legendY": 87,
          "encode": {"symbols": {"update": {
           "shape": {"signal": "datum.value==='FDA'?'M-1.03,0h0.144M-0.597,0h0.144M-0.163,0h0.144M1.169,0h0.144M1.602,0h0.144M2.036,0h0.144M0.27,-0.305h0.61v0.61h-0.61z':datum.value==='mRMR'?'M-1.03,0H-0.34M0.222,0H0.928M1.49,0H2.18':(datum.value==='Logo'||datum.value==='logo')?'M-1.03,0H-0.837M-0.484,0H0.575M0.928,0H1.121M1.474,0H2.18':datum.value==='FMS'?'M-1.03,0h0.144M-0.597,0h0.144M-0.163,0h0.144M1.169,0h0.144M1.602,0h0.144M2.036,0h0.144M0.302,-0.273L0.848,0.273M0.302,0.273L0.848,-0.273':datum.value==='kPLS'?'M-1.03,0H-0.228M1.378,0H2.18M0.222,0A0.353,0.353 0 1,0 0.928,0A0.353,0.353 0 1,0 0.222,0':'M-1.03,0H2.18'"},
           "fill": {"signal": "datum.value==='FDA'?'white':datum.value==='kPLS'?'#a0410d':'transparent'"},
           "strokeDash": {"value": [1, 0]}, "opacity": {"value": 1}, "size": {"value": 529}}}}}},
        "strokeDash": {"field": "m", "type": "nominal", "sort": null, "scale": {"domain": ["FDA", "mRMR", "logo", "FMS", "kPLS", "lLFS"], "range": [[2, 3], [8, 6], [8, 4, 2, 4], [2, 3], [8, 6], [1, 0]]}, "legend": null}
       }},
      {"transform": [{"filter": "datum.m==='FDA'"}],
       "mark": {"type": "point", "shape": "square", "size": 25, "strokeWidth": 2.2, "filled": false, "fill": "white", "stroke": "#00ff00", "opacity": 1},
       "encoding": {
        "x": {"field": "x", "type": "quantitative", "axis": {"orient": "top", "labels": false, "title": null, "values": [5, 10, 15, 20, 25, 30]}},
        "y": {"field": "y", "type": "quantitative", "axis": {"orient": "right", "labels": false, "title": null, "values": [10, 15, 20, 25, 30, 35, 40]}}}},
      {"transform": [{"filter": "datum.m==='FMS'"}],
       "mark": {"type": "point", "shape": "M-1,-1L1,1M-1,1L1,-1", "size": 40, "strokeWidth": 2.2, "filled": false, "stroke": "#00ffff", "opacity": 1},
       "encoding": {"x": {"field": "x", "type": "quantitative", "axis": null}, "y": {"field": "y", "type": "quantitative", "axis": null}}},
      {"transform": [{"filter": "datum.m==='kPLS'"}],
       "mark": {"type": "point", "shape": "circle", "size": 70, "filled": true, "fill": "#a0410d", "strokeWidth": 0, "opacity": 1},
       "encoding": {"x": {"field": "x", "type": "quantitative", "axis": null}, "y": {"field": "y", "type": "quantitative", "axis": null}}}
     ],
     "resolve": {"axis": {"x": "independent", "y": "independent"}}
    }
   ]},
  {"title": {"text": "(j)", "orient": "bottom", "anchor": "middle", "dx": -10, "fontWeight": "normal", "fontSize": 23, "frame": "bounds", "offset": 34},
   "vconcat": [
    {"title": {"text": "Data set: Nervous sys."},
     "width": 379, "height": 337,
     "data": {"name": "j"},
     "layer": [
      {"mark": {"type": "line", "strokeWidth": 1.8},
       "encoding": {
        "x": {"field": "x", "type": "quantitative", "scale": {"domain": [1, 35], "nice": false, "zero": false}, "axis": {"values": [5, 10, 15, 20, 25, 30, 35], "title": "Number of selcted features"}},
        "y": {"field": "y", "type": "quantitative", "scale": {"domain": [20, 70], "nice": false, "zero": false}, "axis": {"values": [20, 30, 40, 50, 60, 70], "title": "Error (in percent)", "titlePadding": 8}},
        "color": {"field": "m", "type": "nominal", "sort": null, "scale": {"domain": ["FDA", "mRMR", "Logo", "FMS", "kPLS", "lLFS"], "range": ["#00ff00", "#ff0000", "#bf00bf", "#00ffff", "#a0410d", "#000000"]},
         "legend": {"orient": "none", "legendX": 250, "legendY": 6, "rowPadding": 1.7,
          "encode": {"symbols": {"update": {
           "shape": {"signal": "datum.value==='FDA'?'M-1.03,0h0.144M-0.597,0h0.144M-0.163,0h0.144M1.169,0h0.144M1.602,0h0.144M2.036,0h0.144M0.27,-0.305h0.61v0.61h-0.61z':datum.value==='mRMR'?'M-1.03,0H-0.34M0.222,0H0.928M1.49,0H2.18':(datum.value==='Logo'||datum.value==='logo')?'M-1.03,0H-0.837M-0.484,0H0.575M0.928,0H1.121M1.474,0H2.18':datum.value==='FMS'?'M-1.03,0h0.144M-0.597,0h0.144M-0.163,0h0.144M1.169,0h0.144M1.602,0h0.144M2.036,0h0.144M0.302,-0.273L0.848,0.273M0.302,0.273L0.848,-0.273':datum.value==='kPLS'?'M-1.03,0H-0.228M1.378,0H2.18M0.222,0A0.353,0.353 0 1,0 0.928,0A0.353,0.353 0 1,0 0.222,0':'M-1.03,0H2.18'"},
           "fill": {"signal": "datum.value==='FDA'?'white':datum.value==='kPLS'?'#a0410d':'transparent'"},
           "strokeDash": {"value": [1, 0]}, "opacity": {"value": 1}, "size": {"value": 529}}}}}},
        "strokeDash": {"field": "m", "type": "nominal", "sort": null, "scale": {"domain": ["FDA", "mRMR", "Logo", "FMS", "kPLS", "lLFS"], "range": [[2, 3], [8, 6], [8, 4, 2, 4], [2, 3], [8, 6], [1, 0]]}, "legend": null}
       }},
      {"transform": [{"filter": "datum.m==='FDA'"}],
       "mark": {"type": "point", "shape": "square", "size": 25, "strokeWidth": 2.2, "filled": false, "fill": "white", "stroke": "#00ff00", "opacity": 1},
       "encoding": {
        "x": {"field": "x", "type": "quantitative", "axis": {"orient": "top", "labels": false, "title": null, "values": [5, 10, 15, 20, 25, 30, 35]}},
        "y": {"field": "y", "type": "quantitative", "axis": {"orient": "right", "labels": false, "title": null, "values": [20, 30, 40, 50, 60, 70]}}}},
      {"transform": [{"filter": "datum.m==='FMS'"}],
       "mark": {"type": "point", "shape": "M-1,-1L1,1M-1,1L1,-1", "size": 40, "strokeWidth": 2.2, "filled": false, "stroke": "#00ffff", "opacity": 1},
       "encoding": {"x": {"field": "x", "type": "quantitative", "axis": null}, "y": {"field": "y", "type": "quantitative", "axis": null}}},
      {"transform": [{"filter": "datum.m==='kPLS'"}],
       "mark": {"type": "point", "shape": "circle", "size": 70, "filled": true, "fill": "#a0410d", "strokeWidth": 0, "opacity": 1},
       "encoding": {"x": {"field": "x", "type": "quantitative", "axis": null}, "y": {"field": "y", "type": "quantitative", "axis": null}}}
     ],
     "resolve": {"axis": {"x": "independent", "y": "independent"}}
    }
   ]}
 ], "spacing": 0, "resolve": {"scale": {"color": "independent", "strokeDash": "independent"}, "legend": {"color": "independent", "strokeDash": "independent"}}}
],
"spacing": 22,
"resolve": {"scale": {"color": "independent", "strokeDash": "independent"}, "legend": {"color": "independent", "strokeDash": "independent"}}
}
